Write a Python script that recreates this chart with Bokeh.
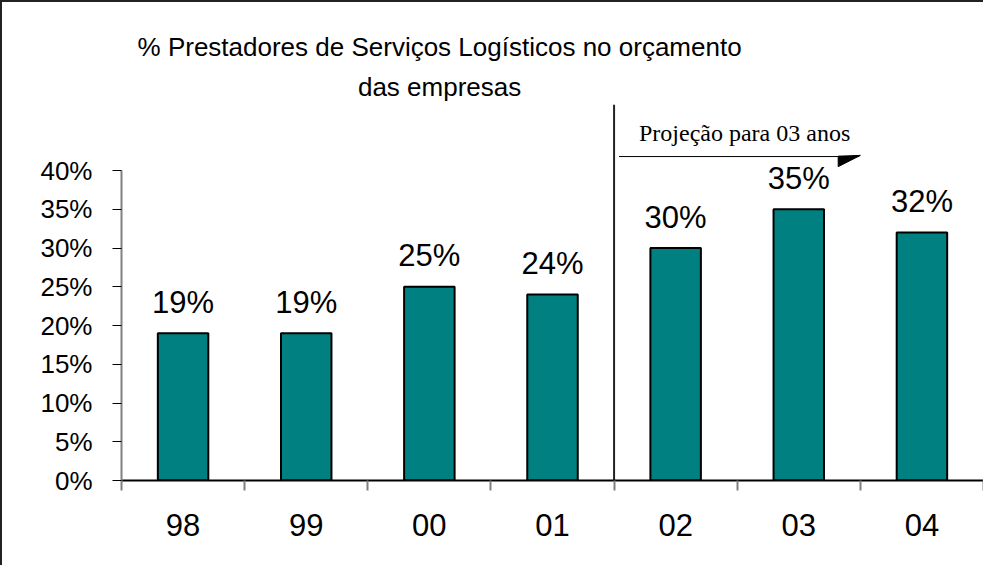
from bokeh.plotting import figure
from bokeh.models import Range1d, FixedTicker, Label, ColumnDataSource
from bokeh.core.properties import value
from bokeh.embed import file_html
from bokeh.resources import INLINE

# ---- data ----
years = ["98", "99", "00", "01", "02", "03", "04"]
shares = [19, 19, 25, 24, 30, 35, 32]
share_labels = ["19%", "19%", "25%", "24%", "30%", "35%", "32%"]
y_ticks = [0, 5, 10, 15, 20, 25, 30, 35, 40]
y_tick_labels = ["0%", "5%", "10%", "15%", "20%", "25%", "30%", "35%", "40%"]
title_lines = ["% Prestadores de Serviços Logísticos no orçamento", "das empresas"]
projection_text = "Projeção para 03 anos"
projection_start = "02"   # projection begins with this year

SANS = "Liberation Sans"
SERIF = "Liberation Serif"

xs = [i + 0.5 for i in range(len(years))]
src = ColumnDataSource(dict(x=xs, top=shares, label=share_labels))

px_per_unit = 7.75
frame_h = 478
fig_h = 565
p = figure(width=983, height=fig_h, output_backend="svg", toolbar_location=None,
           x_range=Range1d(0, len(years)), y_range=Range1d(0, frame_h / px_per_unit),
           min_border_left=119, min_border_right=2, min_border_top=0,
           min_border_bottom=fig_h - frame_h)
p.styles = {"border-left": "2px solid #222", "border-top": "2px solid #222"}
p.outline_line_color = None
p.background_fill_color = "white"
p.xgrid.visible = False
p.ygrid.visible = False

# bars
p.vbar(x="x", top="top", width=0.41, bottom=0, source=src,
       fill_color="#008080", line_color="black", line_width=2)
p.text(x="x", y="top", text="label", source=src, y_offset=-31,
       text_align="center", text_baseline="alphabetic",
       text_font=value(SANS), text_font_size="31px", text_color="black")

# x axis
xa = p.xaxis[0]
xa.ticker = FixedTicker(ticks=xs, minor_ticks=list(range(len(years) + 1)))
xa.major_label_overrides = {x: y for x, y in zip(xs, years)}
xa.major_tick_out = 0
xa.major_tick_in = 0
xa.minor_tick_out = 10
xa.minor_tick_in = 0
xa.minor_tick_line_color = "#808080"
xa.minor_tick_line_width = 2
xa.axis_line_color = "black"
xa.axis_line_width = 2
xa.major_label_text_font = SANS
xa.major_label_text_font_size = "31px"
xa.major_label_text_color = "black"
xa.major_label_standoff = 23

# y axis
ya = p.yaxis[0]
ya.ticker = FixedTicker(ticks=y_ticks, minor_ticks=[])
ya.major_label_overrides = {t: l for t, l in zip(y_ticks, y_tick_labels)}
ya.bounds = (0, y_ticks[-1])
ya.axis_line_color = "#808080"
ya.axis_line_width = 2
ya.major_tick_out = 9
ya.major_tick_in = 0
ya.major_tick_line_color = "black"
ya.major_tick_line_width = 1
ya.minor_tick_line_color = None
ya.major_label_text_font = SANS
ya.major_label_text_font_size = "26px"
ya.major_label_text_color = "black"
ya.major_label_standoff = 20

# projection divider and arrow
split = years.index(projection_start)
p.segment(x0=[split], y0=[0], x1=[split], y1=[48.5], line_color="#222", line_width=2)
p.segment(x0=[split + 0.04], y0=[41.8], x1=[split + 1.99], y1=[41.8],
          line_color="black", line_width=1)
p.patch(x=[split + 1.82, split + 2.0, split + 1.82], y=[41.85, 41.95, 40.5],
        fill_color="black", line_color="black", line_width=1)
p.add_layout(Label(x=split + 1.06, y=44.85, text=projection_text,
                   text_font=SERIF, text_font_size="24px", text_color="black",
                   text_align="center", text_baseline="alphabetic"))

# title
p.add_layout(Label(x=2.583, y=55.9, text=title_lines[0], text_font=SANS,
                   text_font_size="26px", text_color="black",
                   text_align="center", text_baseline="alphabetic"))
p.add_layout(Label(x=2.583, y=50.75, text=title_lines[1], text_font=SANS,
                   text_font_size="26px", text_color="black",
                   text_align="center", text_baseline="alphabetic"))

open("out.html", "w").write(file_html(p, INLINE))
